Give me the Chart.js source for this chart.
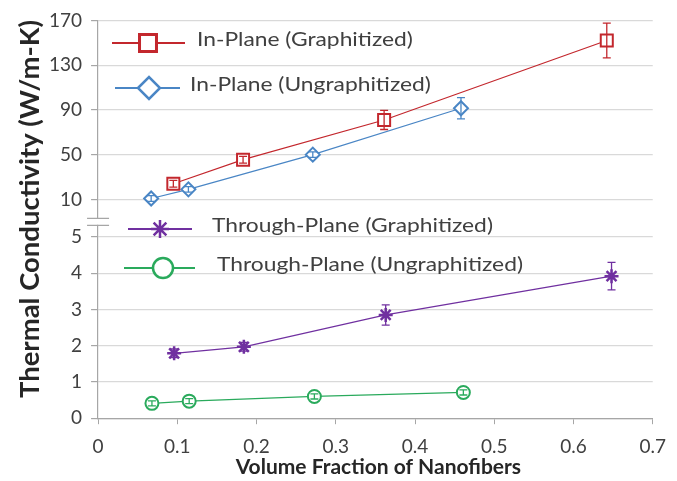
<!DOCTYPE html>
<html>
<head>
<meta charset="utf-8">
<script src="https://cdn.jsdelivr.net/npm/chart.js@4.4.1/dist/chart.umd.min.js"></script>
<style>
  html, body { margin: 0; padding: 0; background: #ffffff; }
  #wrap { width: 677px; height: 481px; position: relative; }
</style>
</head>
<body>
<div id="wrap"><canvas id="chart"></canvas></div>
<script>
// Series: volume fraction (x), conductivity (y) and error half-widths
const seriesLabels = [
  'In-Plane (Graphitized)',
  'In-Plane (Ungraphitized)',
  'Through-Plane (Graphitized)',
  'Through-Plane (Ungraphitized)'
];
const inPlaneGraphX   = [0.095, 0.183, 0.361, 0.642];
const inPlaneGraphY   = [24, 45.5, 81, 152];
const inPlaneGraphErr = [3, 3, 8.5, 15.5];

const inPlaneUngraphX   = [0.067, 0.114, 0.271, 0.458];
const inPlaneUngraphY   = [10.8, 19, 50, 91.5];
const inPlaneUngraphErr = [2.5, 2.5, 2.5, 9.5];

const thruGraphX   = [0.096, 0.184, 0.363, 0.648];
const thruGraphY   = [1.79, 1.97, 2.85, 3.92];
const thruGraphErr = [0.12, 0.12, 0.28, 0.38];

const thruUngraphX   = [0.068, 0.115, 0.273, 0.461];
const thruUngraphY   = [0.41, 0.47, 0.60, 0.71];
const thruUngraphErr = [0.07, 0.07, 0.07, 0.07];

// Axis ticks
const xTickValues = [0, 0.1, 0.2, 0.3, 0.4, 0.5, 0.6, 0.7];
const xTickLabels = ['0', '0.1', '0.2', '0.3', '0.4', '0.5', '0.6', '0.7'];
const upperTicks = [10, 50, 90, 130, 170];
const lowerTicks = [0, 1, 2, 3, 4, 5];

const xTitle = 'Volume Fraction of Nanofibers';
const yTitle = 'Thermal Conductivity (W/m-K)';

const colors = ['#C3272D', '#4A86C5', '#7030A0', '#2AAA5C'];
const styles = ['rect', 'rectRot', 'star', 'circle'];

function pts(xs, ys) { return xs.map((x, i) => ({ x: x, y: ys[i] })); }

const seriesX = [inPlaneGraphX, inPlaneUngraphX, thruGraphX, thruUngraphX];
const seriesY = [inPlaneGraphY, inPlaneUngraphY, thruGraphY, thruUngraphY];
const seriesErr = [inPlaneGraphErr, inPlaneUngraphErr, thruGraphErr, thruUngraphErr];
const seriesAxis = ['yUpper', 'yUpper', 'yLower', 'yLower'];
const markerRadius = [8.5, 7, 7, 6.5];

const datasets = seriesLabels.map((label, i) => ({
  label: label,
  data: pts(seriesX[i], seriesY[i]),
  errors: seriesErr[i],
  yAxisID: seriesAxis[i],
  showLine: true,
  borderColor: colors[i],
  backgroundColor: '#ffffff',
  borderWidth: 1.2,
  pointStyle: styles[i],
  pointRadius: markerRadius[i],
  pointBorderWidth: i === 2 ? 2.5 : 2,
  pointBorderColor: colors[i],
  pointBackgroundColor: i === 2 ? colors[i] : '#ffffff'
}));

const FONT = 'Lato, "Open Sans", sans-serif';
const AXIS_GREY = '#a6a6a6';
const GRID_GREY = '#d9d9d9';
const TITLE_COLOR = '#262626';

// Error bars drawn over markers in each series colour
const errorBars = {
  id: 'errorBars',
  afterDatasetsDraw(chart) {
    const ctx = chart.ctx;
    chart.data.datasets.forEach((ds, i) => {
      const meta = chart.getDatasetMeta(i);
      const ys = chart.scales[ds.yAxisID];
      ctx.save();
      ctx.strokeStyle = ds.borderColor;
      ctx.lineWidth = 1.3;
      meta.data.forEach((el, j) => {
        const v = ds.data[j].y, e = ds.errors[j];
        const top = ys.getPixelForValue(v + e);
        const bot = ys.getPixelForValue(v - e);
        ctx.beginPath();
        ctx.moveTo(el.x, top); ctx.lineTo(el.x, bot);
        ctx.moveTo(el.x - 4, top); ctx.lineTo(el.x + 4, top);
        ctx.moveTo(el.x - 4, bot); ctx.lineTo(el.x + 4, bot);
        ctx.stroke();
      });
      ctx.restore();
    });
  }
};

// Legend entries placed inside the plot, two beside each axis segment
const legendLayout = [
  { x0: 112, x1: 185, y: 43, mx: 148, tx: 197, r: 12, bw: 3 },
  { x0: 115, x1: 180, y: 88, mx: 149, tx: 190, r: 11, bw: 2.5 },
  { x0: 128, x1: 192, y: 229, mx: 160, tx: 212, r: 9, bw: 2.5 },
  { x0: 124, x1: 195, y: 268, mx: 163, tx: 217, r: 10, bw: 2.5 }
];
const insideLegend = {
  id: 'insideLegend',
  afterDraw(chart) {
    const ctx = chart.ctx;
    chart.data.datasets.forEach((ds, i) => {
      const L = legendLayout[i];
      ctx.save();
      ctx.strokeStyle = ds.borderColor;
      ctx.lineWidth = 2;
      ctx.beginPath();
      ctx.moveTo(L.x0, L.y); ctx.lineTo(L.x1, L.y);
      ctx.stroke();
      ctx.fillStyle = i === 2 ? ds.borderColor : '#ffffff';
      ctx.lineWidth = L.bw;
      Chart.helpers.drawPoint(ctx, { pointStyle: ds.pointStyle, radius: L.r, rotation: 0, borderWidth: L.bw }, L.mx, L.y);
      ctx.fillStyle = '#404040';
      ctx.font = '20px ' + FONT;
      ctx.textAlign = 'left';
      ctx.textBaseline = 'middle';
      ctx.translate(L.tx, L.y - 3);
      ctx.scale(1.14, 1);
      ctx.fillText(ds.label, 0, 0);
      ctx.restore();
    });
  }
};

// Break marks between the two axis segments, and both axis titles
const axisDecor = {
  id: 'axisDecor',
  afterDraw(chart) {
    const ctx = chart.ctx;
    const up = chart.scales.yUpper;
    const area = chart.chartArea;
    const ax = area.left;
    const yb = up.bottom;
    ctx.save();
    ctx.fillStyle = '#ffffff';
    ctx.fillRect(ax - 12, yb - 3, 24, 6);
    ctx.strokeStyle = AXIS_GREY;
    ctx.lineWidth = 1.2;
    ctx.beginPath();
    ctx.moveTo(ax - 11, yb - 3.5); ctx.lineTo(ax + 11, yb - 3.5);
    ctx.moveTo(ax - 11, yb + 3.5); ctx.lineTo(ax + 11, yb + 3.5);
    ctx.stroke();

    ctx.fillStyle = TITLE_COLOR;
    ctx.textAlign = 'center';
    ctx.textBaseline = 'middle';
    ctx.font = 'bold 21px ' + FONT;
    ctx.fillText(xTitle, (area.left + area.right) / 2 + 3, 467);

    ctx.translate(30, 209);
    ctx.rotate(-Math.PI / 2);
    ctx.font = 'bold 27.5px ' + FONT;
    ctx.fillText(yTitle, 0, 0);
    ctx.restore();
  }
};

const tickFont = { family: FONT, size: 19 };

new Chart(document.getElementById('chart'), {
  type: 'scatter',
  data: { datasets: datasets },
  options: {
    responsive: true,
    maintainAspectRatio: false,
    animation: false,
    layout: { padding: { left: 40, right: 8, top: 19, bottom: 12 } },
    plugins: { legend: { display: false }, tooltip: { enabled: false } },
    scales: {
      x: {
        type: 'linear',
        min: 0, max: 0.7,
        afterBuildTicks: s => { s.ticks = xTickValues.map(v => ({ value: v })); },
        ticks: {
          font: tickFont, color: '#404040', padding: 11, autoSkip: false,
          callback: (v, i) => xTickLabels[i]
        },
        grid: { drawOnChartArea: false, drawTicks: true, tickLength: 6, tickColor: AXIS_GREY },
        border: { color: AXIS_GREY, width: 1.2 }
      },
      // lower segment is listed first: left-stacked boxes are placed in reverse order
      yLower: {
        type: 'linear', position: 'left', stack: 'cond', stackWeight: 197,
        min: 0, max: 5.42,
        afterBuildTicks: s => { s.ticks = lowerTicks.map(v => ({ value: v })); },
        ticks: { font: tickFont, color: '#404040', padding: 9, autoSkip: false },
        grid: { color: GRID_GREY, lineWidth: 1.2, tickLength: 7, tickColor: AXIS_GREY },
        border: { color: AXIS_GREY, width: 1.2 }
      },
      yUpper: {
        type: 'linear', position: 'left', stack: 'cond', stackWeight: 202,
        min: -10, max: 170,
        afterBuildTicks: s => { s.ticks = upperTicks.map(v => ({ value: v })); },
        ticks: { font: tickFont, color: '#404040', padding: 9, autoSkip: false },
        grid: { color: GRID_GREY, lineWidth: 1.2, tickLength: 7, tickColor: AXIS_GREY },
        border: { color: AXIS_GREY, width: 1.2 }
      }
    }
  },
  plugins: [errorBars, insideLegend, axisDecor]
});
</script>
</body>
</html>
